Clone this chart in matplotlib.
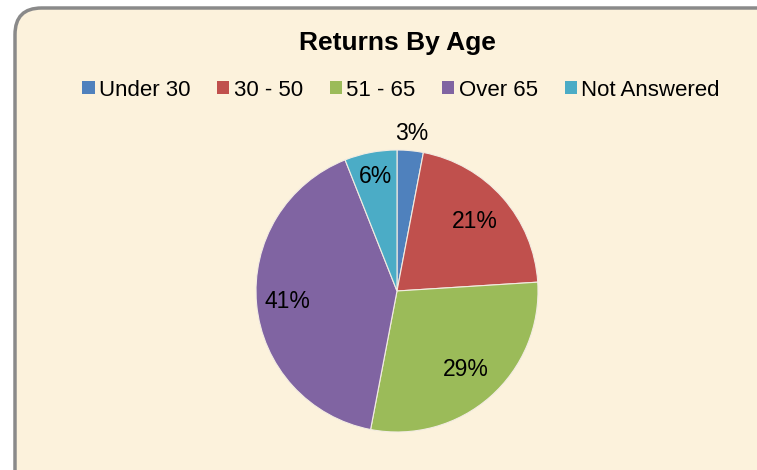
import matplotlib
matplotlib.use("Agg")
import matplotlib.pyplot as plt
from matplotlib.patches import FancyBboxPatch, Patch
import numpy as np

plt.rcParams['font.family'] = ['Liberation Sans', 'DejaVu Sans']

categories = ["Under 30", "30 - 50", "51 - 65", "Over 65", "Not Answered"]
values = [3, 21, 29, 41, 6]
labels = ["3%", "21%", "29%", "41%", "6%"]
colors = ["#4F81BD", "#C0504D", "#9BBB59", "#8064A2", "#4BACC6"]
label_dist = [1.12, 0.74, 0.74, 0.78, 0.83]

W, H = 757, 470
fig = plt.figure(figsize=(W / 100, H / 100), dpi=100, facecolor="white")

# rounded chart-area background
bg = FancyBboxPatch((15 / W, -40 / H), (W + 40 - 15) / W, (H + 40 - 8) / H,
                    boxstyle="round,pad=0,rounding_size=0.035",
                    transform=fig.transFigure, facecolor="#FCF2DC",
                    edgecolor="#8A8A8A", linewidth=2.5, mutation_aspect=W / H,
                    zorder=-10)
fig.patches.append(bg)

cx, cy, r = 397, 291, 141
ax = fig.add_axes([(cx - r) / W, (H - cy - r) / H, 2 * r / W, 2 * r / H])
ax.set_zorder(5)
ax.set_facecolor("none")
ax.axis("off")
wedges, _ = ax.pie(values, colors=colors, startangle=90, counterclock=False,
                   wedgeprops=dict(edgecolor="#F3ECE2", linewidth=0.8))
for w, lab, d in zip(wedges, labels, label_dist):
    ang = np.deg2rad((w.theta1 + w.theta2) / 2)
    ax.text(d * np.cos(ang), d * np.sin(ang), lab, ha="center", va="center",
            fontsize=16.5, color="black")
ax.set_xlim(-1, 1)
ax.set_ylim(-1, 1)

fig.text(397 / W, 1 - 43 / H, "Returns By Age", ha="center", va="center",
         fontsize=19, fontweight="bold")

handles = [Patch(facecolor=c, edgecolor="none") for c in colors]
fig.legend(handles, categories, loc="center", bbox_to_anchor=(401 / W, 1 - 90 / H),
           ncol=5, frameon=False, fontsize=16, handlelength=0.55, handleheight=0.55,
           handletextpad=0.2, columnspacing=1.2)

fig.savefig("out.png", dpi=100)
